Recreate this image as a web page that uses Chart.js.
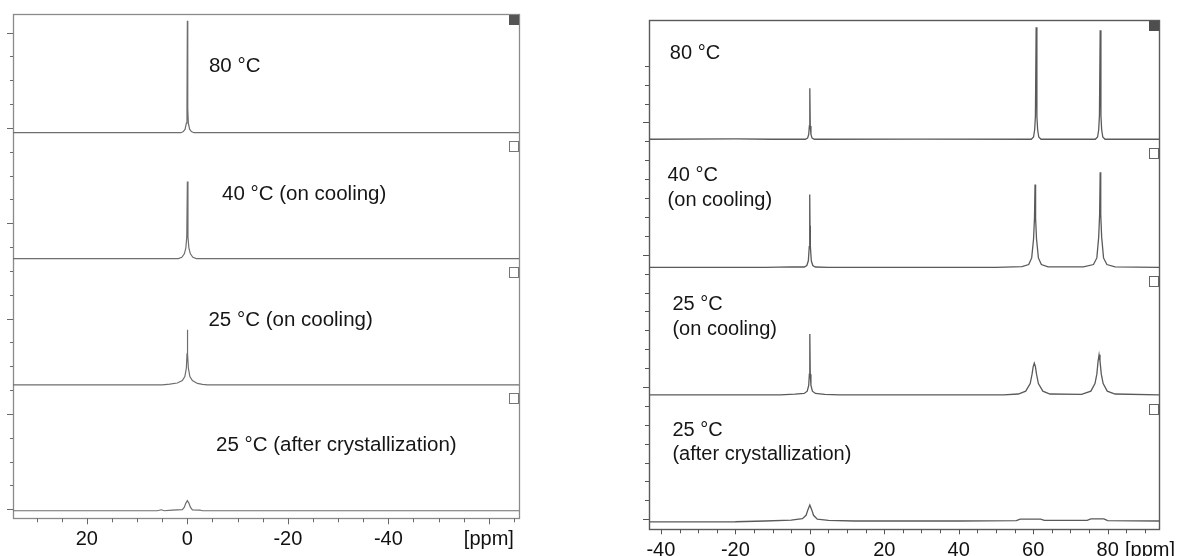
<!DOCTYPE html>
<html>
<head>
<meta charset="utf-8">
<script src="https://cdn.jsdelivr.net/npm/chart.js@4.4.1/dist/chart.umd.min.js"></script>
<style>
  html, body { margin: 0; padding: 0; background: #fff; width: 1177px; height: 556px; overflow: hidden; }
  canvas { position: absolute; top: 0; }
  #left { left: 0; }
  #right { left: 590px; }
</style>
</head>
<body>
<canvas id="left" width="560" height="556"></canvas>
<canvas id="right" width="587" height="556"></canvas>
<script>
// ---------------- Left panel: single reference line near 0 ppm ----------------
// Each spectrum: [ppm, intensity above its own baseline]
const leftXTicks = [20, 0, -20, -40];
const leftUnitAt = -60;
const leftNames = ['80 °C', '40 °C (on cooling)', '25 °C (on cooling)', '25 °C (after crystallization)'];

const left80 = [[34.7,0],[1.3,0],[0.8,0.05],[0.45,0.15],[0.2,0.4],[0.08,1.0],[0,4.70],[-0.08,1.0],[-0.2,0.4],[-0.45,0.15],[-0.8,0.05],[-1.3,0],[-66,0]];
const left40 = [[34.7,0],[1.8,0],[1.1,0.05],[0.6,0.2],[0.3,0.45],[0.12,0.9],[0,3.23],[-0.12,0.9],[-0.3,0.45],[-0.6,0.2],[-1.1,0.05],[-1.8,0],[-66,0]];
const left25 = [[34.7,0],[5,0],[3.5,0.03],[2,0.08],[1,0.18],[0.5,0.35],[0.2,0.7],[0.07,1.3],[0,2.31],[-0.07,1.3],[-0.2,0.7],[-0.5,0.35],[-1,0.18],[-2,0.06],[-3,0.02],[-4,0],[-66,0]];
const left25x = [[34.7,0],[6,0],[5.2,0.04],[4.6,0],[3,0.03],[1,0.05],[0.6,0.15],[0.3,0.32],[0,0.42],[-0.3,0.32],[-0.6,0.15],[-1,0.04],[-2.5,0.03],[-3,0],[-66,0]];

// ---------------- Right panel: reference line plus two salt lines ----------------
const rightXTicks = [-40, -20, 0, 20, 40, 60, 80];
const rightUnitAt = 91.4;
const rightNames = [['80 °C'], ['40 °C', '(on cooling)'], ['25 °C', '(on cooling)'], ['25 °C', '(after crystallization)']];

const right80 = [[-43.2,0],[-20,0.02],[-10,0],[-1.2,0],[-0.6,0.06],[-0.3,0.25],[-0.12,0.7],[0,2.70],[0.12,0.7],[0.3,0.25],[0.6,0.06],[1.2,0],[30,0.01],
  [59.5,0],[60.1,0.12],[60.4,0.5],[60.6,1.2],[60.8,5.93],[61.0,1.2],[61.2,0.5],[61.5,0.12],[62.1,0],
  [76.7,0],[77.3,0.12],[77.6,0.5],[77.8,1.25],[78.0,5.77],[78.2,1.25],[78.4,0.5],[78.7,0.12],[79.3,0],[93.8,0]];
const right40 = [[-43.2,0],[-12,0],[-5,0.03],[-1.5,0.02],[-0.8,0.1],[-0.4,0.35],[-0.15,1.1],[-0.05,2.2],[0,3.86],[0.05,2.2],[0.15,1.1],[0.4,0.35],[0.8,0.1],[1.5,0.02],[5,0],
  [50,0],[57,0.04],[58.8,0.15],[59.6,0.5],[60.1,1.5],[60.35,2.6],[60.5,4.39],[60.65,2.6],[60.9,1.5],[61.4,0.5],[62.2,0.15],[64,0.03],
  [73.5,0.03],[76.2,0.15],[77.1,0.5],[77.6,1.6],[77.85,2.8],[78,5.03],[78.15,2.8],[78.4,1.6],[78.9,0.5],[79.8,0.15],[82,0.03],[93.8,0]];
const right25 = [[-43.2,0],[-8,0],[-4,0.04],[-1.5,0.08],[-0.7,0.2],[-0.3,0.5],[-0.12,1.1],[0,3.23],[0.12,1.1],[0.3,0.5],[0.7,0.2],[1.5,0.08],[4,0.03],[8,0],
  [52,0],[56,0.05],[58,0.2],[59.2,0.6],[59.7,1.1],[60.0,1.5],[60.3,1.68],[60.6,1.5],[60.9,1.1],[61.4,0.6],[62.6,0.2],[64.5,0.05],
  [73,0.03],[75.5,0.2],[76.6,0.6],[77.1,1.1],[77.45,1.8],[77.7,2.12],[77.95,1.8],[78.3,1.1],[78.8,0.6],[79.9,0.2],[82,0.05],[93.8,0]];
const right25x = [[-43.2,-0.05],[-20,-0.04],[-12,0],[-5,0.05],[-2,0.12],[-1,0.3],[-0.5,0.6],[0,0.85],[0.5,0.6],[1,0.3],[2,0.1],[5,0.03],[12,0],[40,0],
  [55.5,0.02],[56.5,0.1],[62,0.1],[63,0.03],[74.5,0.03],[75.5,0.11],[79,0.11],[80,0.02],[93.8,0]];

// ---------------- stacking and decoration ----------------
const FONT = '"Liberation Sans", Arial, Helvetica, sans-serif';

function stacked(spectra, offsets, color, width) {
  return spectra.map((pts, i) => ({
    data: pts.map(([x, y]) => ({ x, y: y + offsets[i] })),
    borderColor: color,
    borderWidth: width,
    pointRadius: 0,
    tension: 0,
    fill: false
  }));
}

const panelDecor = {
  id: 'panelDecor',
  beforeDatasetsDraw(chart, args, o) {
    const { ctx, chartArea: a, scales: { x, y } } = chart;
    ctx.save();
    ctx.strokeStyle = o.frameColor;
    ctx.lineWidth = o.frameWidth;
    ctx.strokeRect(Math.round(a.left) + 0.5, Math.round(a.top) + 0.5,
                   Math.round(a.right - a.left), Math.round(a.bottom - a.top));
    ctx.strokeStyle = o.tickColor;
    ctx.lineWidth = 1;
    // vertical-axis tick marks
    o.yTickValues.forEach(v => {
      const py = Math.round(y.getPixelForValue(v)) + 0.5;
      const len = (v % o.yMajorEvery === 0) ? o.yMajorLen : o.yMinorLen;
      ctx.beginPath(); ctx.moveTo(a.left - len, py); ctx.lineTo(a.left, py); ctx.stroke();
    });
    // horizontal-axis tick marks
    o.xTickValues.forEach(v => {
      const px = Math.round(x.getPixelForValue(v)) + 0.5;
      const len = (v % 20 === 0) ? o.xMajorLen : o.xMinorLen;
      ctx.beginPath(); ctx.moveTo(px, a.bottom); ctx.lineTo(px, a.bottom + len); ctx.stroke();
    });
    ctx.restore();
  },
  afterDatasetsDraw(chart, args, o) {
    const { ctx, chartArea: a, scales: { x, y } } = chart;
    ctx.save();
    // sub-spectrum markers at the right edge
    const s = o.squareSize;
    ctx.fillStyle = o.squareFill;
    ctx.fillRect(a.right - s, a.top + 1, s, s);
    ctx.strokeStyle = o.squareStroke;
    ctx.lineWidth = 1;
    o.offsets.slice(0, -1).forEach(off => {
      const top = Math.round(y.getPixelForValue(off)) + o.squareGap;
      ctx.fillStyle = '#fff';
      ctx.fillRect(a.right - s, top, s, s);
      ctx.strokeRect(Math.round(a.right - s) + 0.5, top + 0.5, s - 1, s);
    });
    // condition captions
    ctx.fillStyle = '#161616';
    ctx.font = o.captionFont;
    ctx.textAlign = 'left';
    ctx.textBaseline = 'middle';
    o.captions.forEach(c => {
      const px = x.getPixelForValue(c.ppm);
      c.lines.forEach((t, k) => {
        ctx.fillText(t, px, y.getPixelForValue(c.y) + k * o.captionLead);
      });
    });
    ctx.restore();
  }
};

function xAxis(min, max, labels, unitAt, height, pad) {
  return {
    type: 'linear',
    reverse: min > max,
    min: Math.min(min, max),
    max: Math.max(min, max),
    grid: { display: false, drawTicks: false },
    border: { display: false },
    afterBuildTicks: s => { s.ticks = labels.concat([unitAt]).map(v => ({ value: v })); },
    afterFit: s => { s.height = height; s.paddingLeft = 0; s.paddingRight = 0; },
    ticks: {
      autoSkip: false,
      maxRotation: 0,
      padding: pad,
      color: '#111',
      font: { family: FONT, size: 20 },
      callback: v => (v === unitAt ? '[ppm]' : String(v))
    }
  };
}

function range(a, b, step) {
  const out = [];
  for (let v = a; step > 0 ? v <= b : v >= b; v += step) out.push(v);
  return out;
}

// ---------------- left chart ----------------
const leftOffsets = [15.80, 10.52, 5.22, -0.06];
new Chart(document.getElementById('left'), {
  type: 'line',
  data: { datasets: stacked([left80, left40, left25, left25x], leftOffsets, '#6e6e6e', 1.2) },
  options: {
    responsive: false,
    animation: false,
    devicePixelRatio: 1,
    layout: { padding: { left: 13, top: 14, right: 41, bottom: 0 } },
    plugins: {
      legend: { display: false },
      tooltip: { enabled: false },
      panelDecor: {
        frameColor: '#8a8a8a', frameWidth: 1.3, tickColor: '#6a6a6a',
        yTickValues: range(0, 20, 1), yMajorEvery: 4, yMajorLen: 6, yMinorLen: 3,
        xTickValues: range(30, -65, -5), xMajorLen: 6, xMinorLen: 4,
        offsets: leftOffsets, squareSize: 10, squareGap: 8,
        squareFill: '#555', squareStroke: '#777',
        captionFont: '20.5px ' + FONT, captionLead: 0,
        captions: [
          { ppm: -4.3, y: 18.57, lines: [leftNames[0]] },
          { ppm: -6.9, y: 13.22, lines: [leftNames[1]] },
          { ppm: -4.2, y: 7.94, lines: [leftNames[2]] },
          { ppm: -5.7, y: 2.70, lines: [leftNames[3]] }
        ]
      }
    },
    scales: {
      x: xAxis(34.7, -66, leftXTicks, leftUnitAt, 37.7, 9),
      y: { type: 'linear', display: false, min: -0.377, max: 20.78 }
    }
  },
  plugins: [panelDecor]
});

// ---------------- right chart ----------------
const rightOffsets = [20.11, 13.33, 6.58, -0.09];
new Chart(document.getElementById('right'), {
  type: 'line',
  data: { datasets: stacked([right80, right40, right25, right25x], rightOffsets, '#5a5a5a', 1.3) },
  options: {
    responsive: false,
    animation: false,
    devicePixelRatio: 1,
    layout: { padding: { left: 59, top: 20, right: 18, bottom: 0 } },
    plugins: {
      legend: { display: false },
      tooltip: { enabled: false },
      panelDecor: {
        frameColor: '#5a5a5a', frameWidth: 1.4, tickColor: '#555',
        yTickValues: range(0, 24, 1), yMajorEvery: 7, yMajorLen: 6, yMinorLen: 4,
        xTickValues: range(-40, 90, 5), xMajorLen: 5, xMinorLen: 4,
        offsets: rightOffsets, squareSize: 10, squareGap: 9,
        squareFill: '#4e4e4e', squareStroke: '#666',
        captionFont: '20px ' + FONT, captionLead: 24.5,
        captions: [
          { ppm: -37.6, y: 24.66, lines: rightNames[0] },
          { ppm: -38.2, y: 18.18, lines: rightNames[1] },
          { ppm: -36.9, y: 11.34, lines: rightNames[2] },
          { ppm: -36.9, y: 4.72, lines: rightNames[3] }
        ]
      }
    },
    scales: {
      x: xAxis(-43.2, 93.8, rightXTicks, rightUnitAt, 26.7, 9),
      y: { type: 'linear', display: false, min: -0.53, max: 26.42 }
    }
  },
  plugins: [panelDecor]
});
</script>
</body>
</html>
